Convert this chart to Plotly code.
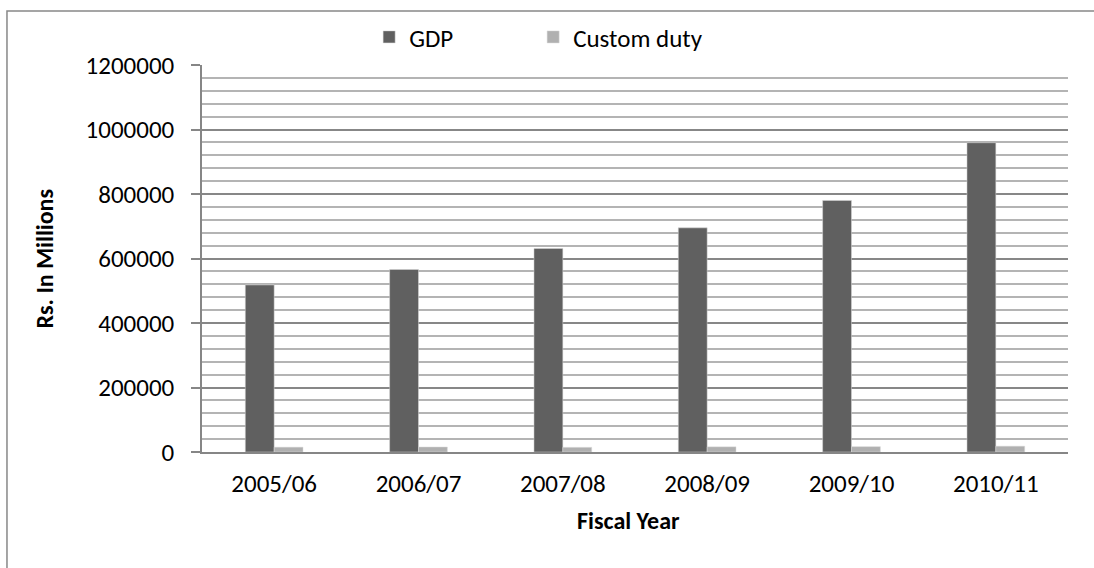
import plotly.graph_objects as go

years = ["2005/06", "2006/07", "2007/08", "2008/09", "2009/10", "2010/11"]
gdp = [518000, 566000, 631000, 695000, 780000, 959000]
custom_duty = [15000, 15500, 14500, 16000, 16500, 18000]
y_ticks = [0, 200000, 400000, 600000, 800000, 1000000, 1200000]

FONT = "Carlito, Lato, sans-serif"

fig = go.Figure()
fig.add_trace(go.Bar(x=years, y=gdp, name="GDP", legendwidth=119,
                     marker=dict(color="#606060", line=dict(color="#d9d9d9", width=0.5))))
fig.add_trace(go.Bar(x=years, y=custom_duty, name="Custom duty", legendwidth=200,
                     marker=dict(color="#b0b0b0", line=dict(color="#d9d9d9", width=0.5))))

fig.update_layout(
    width=1094, height=568,
    margin=dict(l=202, r=26, t=65, b=116),
    paper_bgcolor="white", plot_bgcolor="white",
    barmode="group", bargap=0.6, bargroupgap=0,
    font=dict(family=FONT, size=25, color="#000000"),
    showlegend=True,
    legend=dict(orientation="h", x=0.193, y=1.072, xanchor="left", yanchor="middle",
                font=dict(family=FONT, size=25), bgcolor="rgba(0,0,0,0)"),
    xaxis=dict(showline=True, linecolor="#868686", linewidth=2, ticks="",
               showgrid=False, tickfont=dict(size=25), ticklabelstandoff=8),
    yaxis=dict(range=[0, 1200000], tickvals=y_ticks, ticktext=[str(v) for v in y_ticks],
               showline=True, linecolor="#868686", linewidth=1.5,
               ticks="outside", ticklen=9, tickcolor="#868686", tickwidth=1.5,
               ticklabelstandoff=12,
               showgrid=True, gridcolor="#878787", gridwidth=1.5,
               minor=dict(dtick=40000, showgrid=True, gridcolor="#b4b4b4", gridwidth=1.5),
               zeroline=False, tickfont=dict(size=25)),
    annotations=[
        dict(text="<b>Rs. In Millions</b>", xref="paper", yref="paper", x=-0.1813, y=0.5,
             textangle=-90, showarrow=False, font=dict(family=FONT, size=24),
             xanchor="center", yanchor="middle"),
        dict(text="<b>Fiscal Year</b>", xref="paper", yref="paper", x=0.492, y=-0.178,
             showarrow=False, font=dict(family=FONT, size=24),
             xanchor="center", yanchor="middle"),
    ],
    shapes=[dict(type="rect", xref="paper", yref="paper", x0=-0.2252, y0=-1, x1=1.5, y1=1.1395,
                 line=dict(color="#888888", width=1.5), layer="below")],
)

fig.write_html("out.html")
